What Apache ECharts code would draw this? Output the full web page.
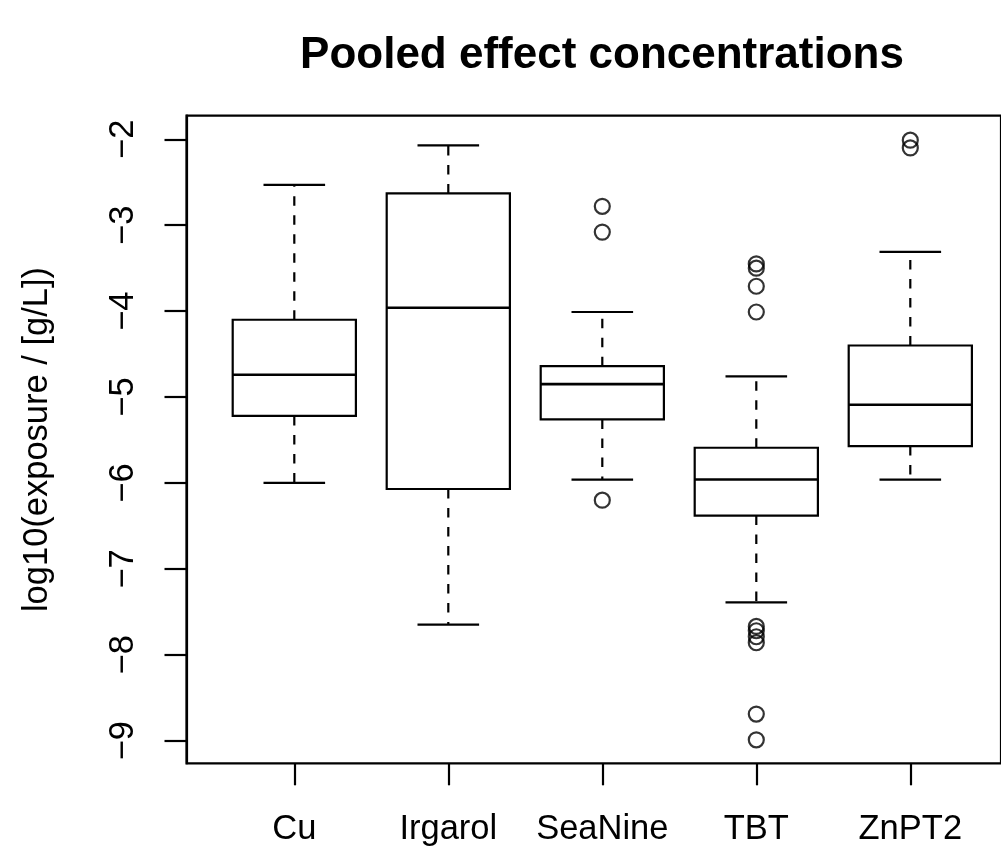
<!DOCTYPE html>
<html><head><meta charset="utf-8">
<script src="https://cdn.jsdelivr.net/npm/echarts@6/dist/echarts.min.js"></script>
<style>html,body{margin:0;padding:0;background:#fff}#c{width:1001px;height:852px}</style>
</head><body><div id="c"></div>
<script>
const categories = ['Cu', 'Irgarol', 'SeaNine', 'TBT', 'ZnPT2'];
const whiskerLow  = [-6.00, -7.65, -5.96, -7.39, -5.96];
const quartile1   = [-5.22, -6.07, -5.26, -6.38, -5.57];
const medians     = [-4.74, -3.96, -4.85, -5.96, -5.09];
const quartile3   = [-4.10, -2.63, -4.64, -5.59, -4.40];
const whiskerHigh = [-2.53, -2.07, -4.01, -4.76, -3.31];
const outliersCu = [];
const outliersIrgarol = [];
const outliersSeaNine = [-2.78, -3.08, -6.20];
const outliersTBT = [-3.45, -3.50, -3.71, -4.01, -7.67, -7.72, -7.79, -7.86, -8.69, -8.99];
const outliersZnPT2 = [-2.01, -2.10];
const yTickValues = [-9, -8, -7, -6, -5, -4, -3, -2];
const yRange = [-9.263, -1.725];

const outlierLists = [outliersCu, outliersIrgarol, outliersSeaNine, outliersTBT, outliersZnPT2];
const boxData = categories.map((c, i) => [i, whiskerLow[i], quartile1[i], medians[i], quartile3[i], whiskerHigh[i]]);
const outlierData = [];
outlierLists.forEach((list, i) => list.forEach(v => outlierData.push([i, v])));

const FONT = 'Liberation Sans, Arial, Helvetica, sans-serif';
const LW = 2.2;

const chart = echarts.init(document.getElementById('c'), null, {renderer: 'canvas'});
chart.setOption({
  backgroundColor: '#ffffff',
  animation: false,
  title: {
    text: 'Pooled effect concentrations',
    left: 602, top: 34, padding: 0, textAlign: 'center',
    textStyle: {fontFamily: FONT, fontWeight: 'bold', fontSize: 44, color: '#000'}
  },
  grid: [
    {left: 186.5, top: 115.7, width: 831.6, height: 647.6, show: true,
     borderColor: '#000', borderWidth: LW, backgroundColor: 'transparent', containLabel: false},
    {left: 217.3, top: 115.7, width: 770, height: 647.6, show: false, containLabel: false}
  ],
  xAxis: [
    {gridIndex: 0, type: 'value', min: 0, max: 1, show: false},
    {gridIndex: 1, type: 'category', data: categories, boundaryGap: true,
     axisLine: {show: false},
     axisTick: {show: true, alignWithLabel: true, length: 22, inside: false, lineStyle: {color: '#000', width: LW}},
     axisLabel: {show: true, margin: 49, fontFamily: FONT, fontSize: 34.5, color: '#000', interval: 0},
     splitLine: {show: false}}
  ],
  yAxis: [
    {gridIndex: 0, type: 'value', min: yRange[0], max: yRange[1],
     name: 'log10(exposure / [g/L])', nameLocation: 'middle', nameGap: 132, nameRotate: 90,
     nameTextStyle: {fontFamily: FONT, fontSize: 34.5, color: '#000'},
     axisLine: {show: true, lineStyle: {color: '#000', width: LW}},
     axisTick: {show: true, length: 22, customValues: yTickValues, lineStyle: {color: '#000', width: LW}},
     axisLabel: {show: true, rotate: 90, margin: 46, customValues: yTickValues,
       fontFamily: FONT, fontSize: 34.5, color: '#000',
       formatter: v => String(v).replace('-', '\u2212')},
     splitLine: {show: false}},
    {gridIndex: 1, type: 'value', min: yRange[0], max: yRange[1], show: false}
  ],
  series: [
    {
      type: 'custom', xAxisIndex: 1, yAxisIndex: 1,
      data: boxData,
      encode: {x: 0, y: [1, 2, 3, 4, 5]},
      renderItem: function (params, api) {
        const i = api.value(0);
        const band = api.size([1, 0])[0];
        const boxW = band * 0.8, capW = band * 0.4;
        const pLo = api.coord([i, api.value(1)]);
        const pQ1 = api.coord([i, api.value(2)]);
        const pMed = api.coord([i, api.value(3)]);
        const pQ3 = api.coord([i, api.value(4)]);
        const pHi = api.coord([i, api.value(5)]);
        const x = pMed[0];
        const solid = {stroke: '#000', lineWidth: LW, fill: null};
        const dashed = {stroke: '#000', lineWidth: LW, lineDash: [9.5, 9.5], fill: null};
        return {
          type: 'group',
          children: [
            {type: 'line', shape: {x1: x, y1: pQ3[1], x2: x, y2: pHi[1]}, style: dashed},
            {type: 'line', shape: {x1: x, y1: pQ1[1], x2: x, y2: pLo[1]}, style: dashed},
            {type: 'line', shape: {x1: x - capW / 2, y1: pHi[1], x2: x + capW / 2, y2: pHi[1]}, style: solid},
            {type: 'line', shape: {x1: x - capW / 2, y1: pLo[1], x2: x + capW / 2, y2: pLo[1]}, style: solid},
            {type: 'rect', shape: {x: x - boxW / 2, y: pQ3[1], width: boxW, height: pQ1[1] - pQ3[1]},
             style: {stroke: '#000', lineWidth: LW, fill: '#fff'}},
            {type: 'line', shape: {x1: x - boxW / 2, y1: pMed[1], x2: x + boxW / 2, y2: pMed[1]},
             style: {stroke: '#000', lineWidth: LW + 0.4}}
          ]
        };
      }
    },
    {
      type: 'scatter', xAxisIndex: 1, yAxisIndex: 1,
      data: outlierData,
      symbol: 'circle', symbolSize: 15,
      itemStyle: {color: 'transparent', borderColor: '#000', borderWidth: LW},
      emphasis: {disabled: true}
    }
  ]
});
</script>
</body></html>
